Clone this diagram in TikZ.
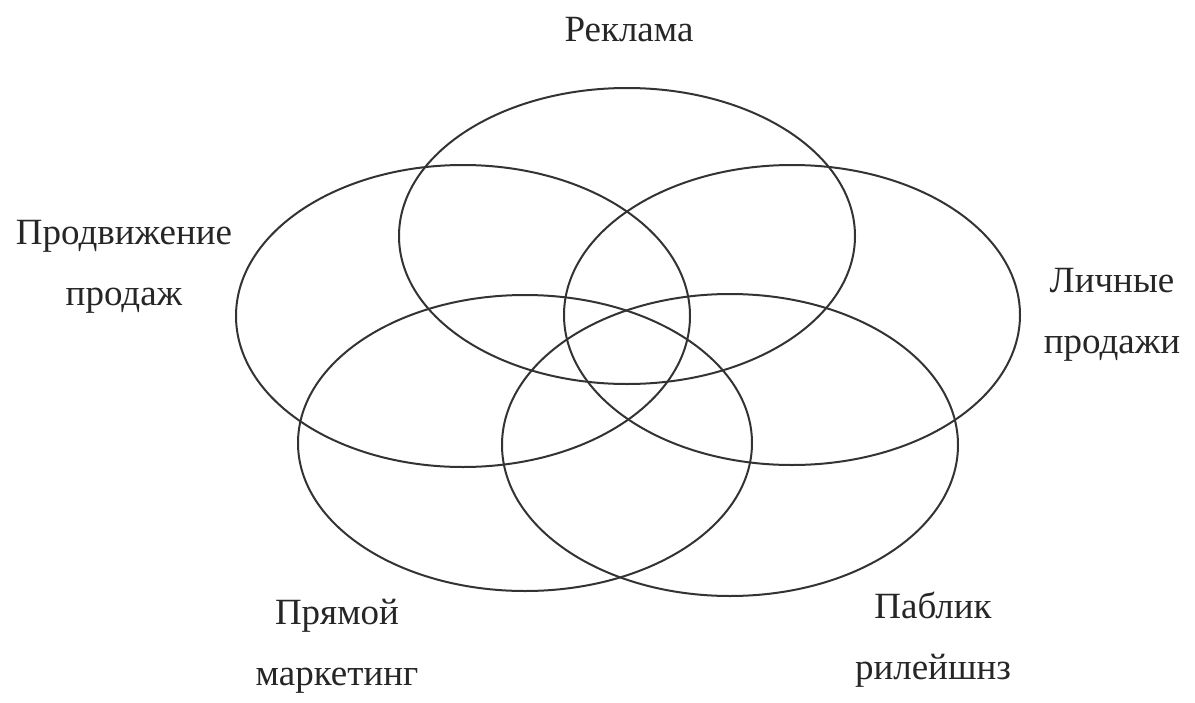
\documentclass[tikz,border=0pt]{standalone}
\usepackage{fontspec}
\setmainfont{Liberation Serif}
\begin{document}
\begin{tikzpicture}[x=1pt,y=-1pt,
  ring/.style={draw=black!80, line width=2pt},
  lbl/.style={align=center, font=\fontsize{37}{61}\selectfont, inner sep=0pt, text=black!85}]
\useasboundingbox (0,0) rectangle (1195,702);
\draw[ring] (627,236) ellipse [x radius=228, y radius=148];
\draw[ring] (463,316) ellipse [x radius=227, y radius=151];
\draw[ring] (792,315) ellipse [x radius=228, y radius=150];
\draw[ring] (525,443) ellipse [x radius=227, y radius=148];
\draw[ring] (730,445) ellipse [x radius=228, y radius=151];
\node[lbl] (rek) at (629,30) {Реклама};
\node[lbl] (prod) at (124,267) {Продвижение\\продаж};
\node[lbl] (lich) at (1112,315) {Личные\\продажи};
\node[lbl] (pryam) at (337,646) {Прямой\\маркетинг};
\node[lbl] (pabl) at (933,640) {Паблик\\рилейшнз};
\end{tikzpicture}
\end{document}
